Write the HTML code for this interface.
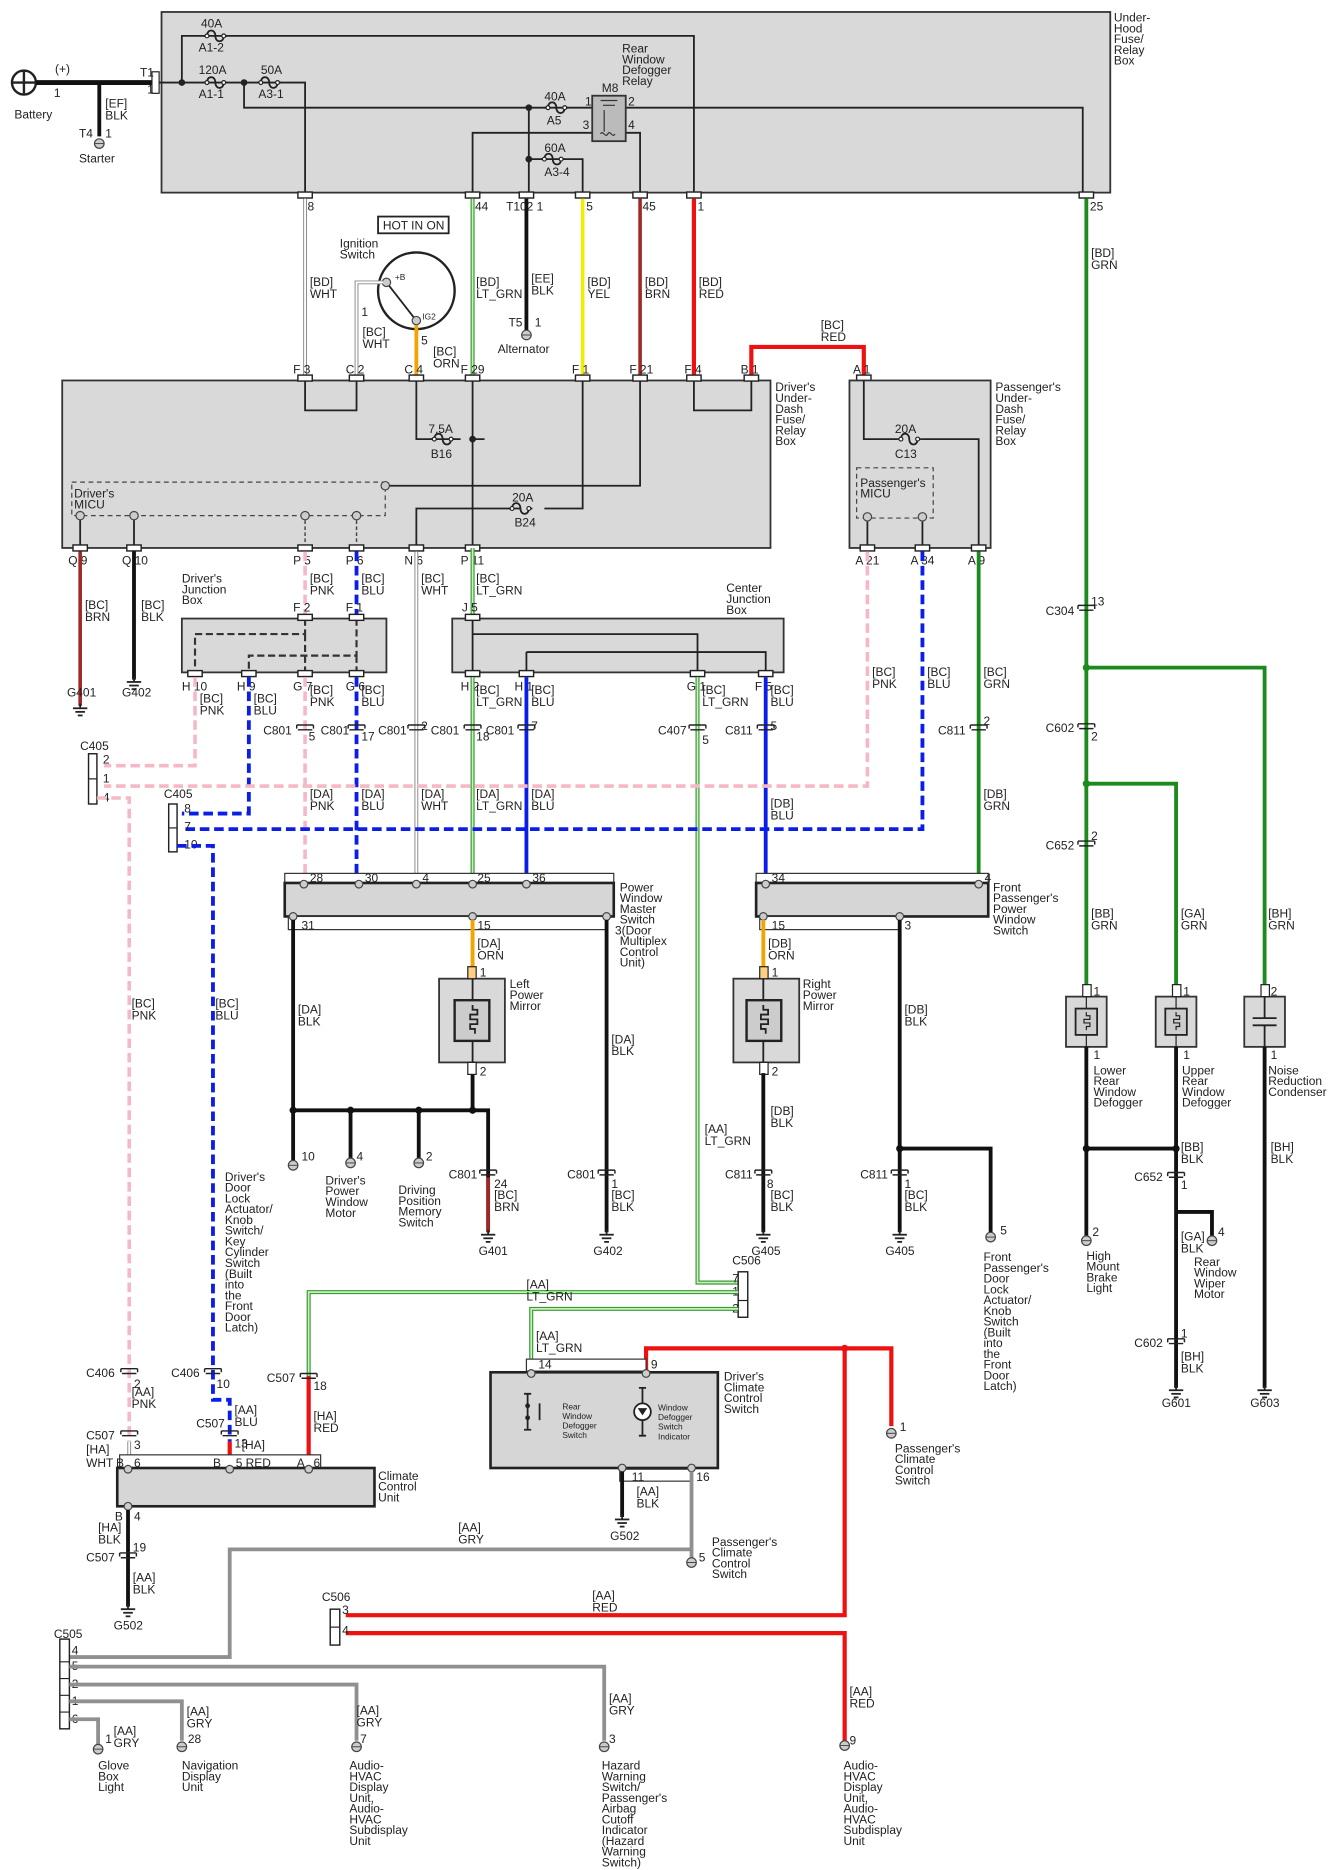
<!DOCTYPE html>
<html><head><meta charset="utf-8"><style>
html,body{margin:0;padding:0;background:#fff}
svg{display:block}
text{font-family:"Liberation Sans Narrow","Liberation Sans",sans-serif;font-size:10px;fill:#222}
.s{font-size:7px}
.k{stroke:#222;stroke-width:1.5;fill:none}
.kb{stroke:#111;stroke-width:3.2;fill:none}
.r{stroke:#ee1111;stroke-width:3.5;fill:none}
.br{stroke:#a02828;stroke-width:3;fill:none}
.pk{stroke:#f6b8c4;stroke-width:3;fill:none;stroke-dasharray:8 4}
.bl{stroke:#0a1ee8;stroke-width:3.2;fill:none;stroke-dasharray:8 4}
.bs{stroke:#0a1ee8;stroke-width:3.2;fill:none}
.g{stroke:#1c8a1c;stroke-width:3.2;fill:none}
.lg{stroke:#3a9a3a;stroke-width:3.4;fill:none}
.lgi{stroke:#c8f2b8;stroke-width:1.4;fill:none}
.w{stroke:#888;stroke-width:3.2;fill:none}
.wi{stroke:#fff;stroke-width:1.6;fill:none}
.y{stroke:#f0ee00;stroke-width:3;fill:none}
.o{stroke:#f5a300;stroke-width:3.2;fill:none}
.gy{stroke:#909090;stroke-width:3.2;fill:none}
.box{fill:#d9d9d9;stroke:#333;stroke-width:1.5}
.bx2{fill:#d6d6d6;stroke:#222;stroke-width:2.2}
.cn{fill:#fff;stroke:#222;stroke-width:1.2}
.ds{fill:none;stroke:#444;stroke-width:1;stroke-dasharray:4 3}
.t{fill:#ccc;stroke:#444;stroke-width:1}
</style></head><body>
<svg width="1334" height="1870" viewBox="0 0 1115 1563" xmlns="http://www.w3.org/2000/svg">
<defs>
<g id="gnd"><line x1="0" y1="0" x2="0" y2="4" stroke="#222" stroke-width="1.5"/><line x1="-6" y1="4" x2="6" y2="4" stroke="#222" stroke-width="1.5"/><line x1="-4" y1="7" x2="4" y2="7" stroke="#222" stroke-width="1.5"/><line x1="-2" y1="10" x2="2" y2="10" stroke="#222" stroke-width="1.5"/></g>
<g id="term"><circle cx="0" cy="0" r="4" fill="#ccc" stroke="#444" stroke-width="1"/><line x1="-4" y1="0" x2="4" y2="0" stroke="#444" stroke-width="0.8"/></g>
<g id="cn"><rect x="-6" y="-2.5" width="12" height="5" fill="#fff" stroke="#222" stroke-width="1.2"/></g>
<g id="ic"><path d="M-7,-2 h14 M-7,-2 v3 M7,-2 v3 M-6,2 h12" stroke="#222" stroke-width="1.2" fill="none"/></g>
<g id="fz"><path d="M-10,0 h3 c0,-6 7,-6 7,0 c0,6 7,6 7,0 h3" stroke="#222" stroke-width="1.5" fill="none"/><circle cx="-7" cy="0" r="1.6" fill="#fff" stroke="#222"/><circle cx="7" cy="0" r="1.6" fill="#fff" stroke="#222"/></g>
</defs>

<!-- Under hood box -->
<rect class="box" x="135" y="10" width="793" height="151"/>
<text x="931" y="18"><tspan x="931">Under-</tspan><tspan x="931" dy="9">Hood</tspan><tspan x="931" dy="9">Fuse/</tspan><tspan x="931" dy="9">Relay</tspan><tspan x="931" dy="9">Box</tspan></text>
<!-- battery -->
<circle cx="20" cy="69" r="10" fill="#fff" stroke="#222" stroke-width="2"/>
<path d="M10,69h20M20,59v20" stroke="#222" stroke-width="2"/>
<text x="46" y="61">(+)</text><text x="45" y="81">1</text><text x="12" y="99">Battery</text>
<path d="M30,69H128" stroke="#111" stroke-width="4"/>
<rect x="127" y="60" width="6" height="18" fill="#fff" stroke="#222"/>
<text x="117" y="64">T1</text><text x="123" y="78">1</text>
<path class="kb" d="M83,69V114"/>
<text x="88" y="90"><tspan x="88">[EF]</tspan><tspan x="88" dy="10">BLK</tspan></text>
<text x="66" y="115">T4</text><text x="88" y="115">1</text>
<use href="#term" x="83" y="120"/><text x="66" y="136">Starter</text>
<!-- inside under hood -->
<path class="k" d="M133,69H255V163M152,69V30H580V163M204,69V90H905V163M442,90V163M442,133H487V163M522,111H535V163M495,111H395V163"/>
<circle cx="152" cy="69" r="2.8" fill="#222"/><circle cx="204" cy="69" r="2.8" fill="#222"/><circle cx="442" cy="90" r="2.8" fill="#222"/><circle cx="442" cy="133" r="2.8" fill="#222"/>
<use href="#fz" x="180" y="30"/><text x="168" y="23">40A</text><text x="166" y="43">A1-2</text>
<use href="#fz" x="180" y="69"/><text x="166" y="62">120A</text><text x="166" y="82">A1-1</text>
<use href="#fz" x="225" y="69"/><text x="218" y="62">50A</text><text x="216" y="82">A3-1</text>
<use href="#fz" x="465" y="90"/><text x="455" y="84">40A</text><text x="457" y="104">A5</text>
<use href="#fz" x="462" y="133"/><text x="455" y="127">60A</text><text x="455" y="147">A3-4</text>
<rect x="495" y="80" width="28" height="38" fill="#bbb" stroke="#333" stroke-width="1.5"/>
<path d="M502,84h14M504,88h10M505,92 v18" stroke="#333" stroke-width="1" fill="none"/><path d="M502,112c2,-4 4,4 6,0c2,-4 4,4 6,0" stroke="#333" fill="none"/>
<text x="520" y="44"><tspan x="520">Rear</tspan><tspan x="520" dy="9">Window</tspan><tspan x="520" dy="9">Defogger</tspan><tspan x="520" dy="9">Relay</tspan></text>
<text x="503" y="77">M8</text><text x="489" y="88">1</text><text x="525" y="88">2</text><text x="487" y="108">3</text><text x="525" y="108">4</text>
<use href="#cn" x="255" y="163"/><use href="#cn" x="395" y="163"/><use href="#cn" x="440" y="163"/><use href="#cn" x="487" y="163"/><use href="#cn" x="535" y="163"/><use href="#cn" x="580" y="163"/><use href="#cn" x="908" y="163"/>
<text x="257" y="176">8</text><text x="397" y="176">44</text><text x="423" y="176">T102 1</text><text x="490" y="176">5</text><text x="537" y="176">45</text><text x="583" y="176">1</text><text x="911" y="176">25</text>
<!-- wires to second box -->
<path class="w" d="M255,166V313"/><path class="wi" d="M255,166V313"/>
<text x="259" y="239"><tspan x="259">[BD]</tspan><tspan x="259" dy="10">WHT</tspan></text>
<path class="lg" d="M395,166V458"/><path class="lgi" d="M395,166V458"/>
<text x="398" y="239"><tspan x="398">[BD]</tspan><tspan x="398" dy="10">LT_GRN</tspan></text>
<path class="kb" d="M440,166V276"/><text x="444" y="236"><tspan x="444">[EE]</tspan><tspan x="444" dy="10">BLK</tspan></text>
<text x="425" y="273">T5</text><text x="447" y="273">1</text><use href="#term" x="440" y="280"/><text x="416" y="295">Alternator</text>
<path class="y" d="M487,166V313"/><text x="491" y="239"><tspan x="491">[BD]</tspan><tspan x="491" dy="10">YEL</tspan></text>
<path class="br" d="M535,166V313"/><text x="539" y="239"><tspan x="539">[BD]</tspan><tspan x="539" dy="10">BRN</tspan></text>
<path class="r" d="M580,166V313"/><text x="584" y="239"><tspan x="584">[BD]</tspan><tspan x="584" dy="10">RED</tspan></text>
<path class="g" d="M908,166V828"/><text x="912" y="215"><tspan x="912">[BD]</tspan><tspan x="912" dy="10">GRN</tspan></text>
<rect x="316" y="181" width="59" height="14" fill="#fff" stroke="#222" stroke-width="1.5"/><text x="320" y="192">HOT IN ON</text>
<text x="284" y="207"><tspan x="284">Ignition</tspan><tspan x="284" dy="9">Switch</tspan></text>
<circle cx="348" cy="243" r="32" fill="#fff" stroke="#222" stroke-width="2"/>
<path class="k" d="M323,236L348,268"/>
<circle cx="323" cy="236" r="3.5" fill="#ccc" stroke="#444"/><circle cx="348" cy="268" r="3.5" fill="#ccc" stroke="#444"/>
<text x="330" y="234" class="s">+B</text><text x="353" y="267" class="s">IG2</text>
<path class="w" d="M320,236H298V313" stroke-width="2.6"/><path class="wi" d="M320,236H298V313" stroke-width="1.2"/>
<text x="302" y="264">1</text><text x="303" y="281"><tspan x="303">[BC]</tspan><tspan x="303" dy="10">WHT</tspan></text>
<path class="o" d="M348,272V313"/><text x="352" y="288">5</text><text x="362" y="297"><tspan x="362">[BC]</tspan><tspan x="362" dy="10">ORN</tspan></text>
<path class="r" d="M628,316V290H722V316"/><text x="686" y="275"><tspan x="686">[BC]</tspan><tspan x="686" dy="10">RED</tspan></text>
<!-- driver's under-dash -->
<rect class="box" x="52" y="318" width="592" height="140"/>
<text x="648" y="327"><tspan x="648">Driver's</tspan><tspan x="648" dy="9">Under-</tspan><tspan x="648" dy="9">Dash</tspan><tspan x="648" dy="9">Fuse/</tspan><tspan x="648" dy="9">Relay</tspan><tspan x="648" dy="9">Box</tspan></text>
<path class="k" d="M255,318V343H298V318M580,318V343H628V318M348,318V367H385M405,367H395M487,318V425H455M435,425H348V458M535,318V406H325M67,431V458M112,431V458"/>
<path class="k" d="M395,318V458" stroke-opacity="0"/>
<path d="M395,318V458" stroke="#222" stroke-width="1.5"/>
<use href="#fz" x="370" y="367"/><circle cx="395" cy="367" r="2.8" fill="#222"/>
<text x="358" y="362">7.5A</text><text x="360" y="383">B16</text>
<use href="#fz" x="435" y="425"/><text x="428" y="419">20A</text><text x="430" y="440">B24</text>
<rect class="ds" x="60" y="403" width="262" height="28"/>
<text x="62" y="416"><tspan x="62">Driver's</tspan><tspan x="62" dy="9">MICU</tspan></text>
<circle cx="322" cy="406" r="3.5" fill="#ccc" stroke="#444"/>
<circle cx="67" cy="431" r="3.5" fill="#ccc" stroke="#444"/><circle cx="112" cy="431" r="3.5" fill="#ccc" stroke="#444"/><circle cx="255" cy="431" r="3.5" fill="#ccc" stroke="#444"/><circle cx="298" cy="431" r="3.5" fill="#ccc" stroke="#444"/>
<path d="M255,435V458M298,435V458" stroke="#444" stroke-width="1.2" stroke-dasharray="3 2"/>
<use href="#cn" x="255" y="316"/><use href="#cn" x="298" y="316"/><use href="#cn" x="348" y="316"/><use href="#cn" x="395" y="316"/><use href="#cn" x="487" y="316"/><use href="#cn" x="535" y="316"/><use href="#cn" x="580" y="316"/><use href="#cn" x="628" y="316"/><use href="#cn" x="722" y="316"/>
<text x="245" y="312">F 3</text><text x="289" y="312">C 2</text><text x="338" y="312">C 4</text><text x="385" y="312">F 29</text><text x="478" y="312">F 1</text><text x="526" y="312">F 21</text><text x="572" y="312">F 4</text><text x="619" y="312">B 1</text><text x="713" y="312">A 1</text>
<use href="#cn" x="67" y="458"/><use href="#cn" x="112" y="458"/><use href="#cn" x="255" y="458"/><use href="#cn" x="298" y="458"/><use href="#cn" x="348" y="458"/><use href="#cn" x="395" y="458"/>
<text x="57" y="472">Q 9</text><text x="102" y="472">Q 10</text><text x="245" y="472">P 5</text><text x="289" y="472">P 6</text><text x="338" y="472">N 6</text><text x="385" y="472">P 11</text>
<!-- passenger under-dash -->
<rect class="box" x="710" y="318" width="118" height="140"/>
<text x="832" y="327"><tspan x="832">Passenger's</tspan><tspan x="832" dy="9">Under-</tspan><tspan x="832" dy="9">Dash</tspan><tspan x="832" dy="9">Fuse/</tspan><tspan x="832" dy="9">Relay</tspan><tspan x="832" dy="9">Box</tspan></text>
<path class="k" d="M722,318V367H750M770,367H818V458M725,436V458M771,436V458"/>
<use href="#fz" x="760" y="367"/><text x="748" y="362">20A</text><text x="748" y="383">C13</text>
<rect class="ds" x="716" y="391" width="64" height="42"/>
<text x="719" y="407"><tspan x="719">Passenger's</tspan><tspan x="719" dy="9">MICU</tspan></text>
<circle cx="725" cy="432" r="3.5" fill="#ccc" stroke="#444"/><circle cx="771" cy="432" r="3.5" fill="#ccc" stroke="#444"/>
<use href="#cn" x="725" y="458"/><use href="#cn" x="771" y="458"/><use href="#cn" x="818" y="458"/>
<text x="715" y="472">A 21</text><text x="761" y="472">A 34</text><text x="809" y="472">A 9</text>
<!-- below driver's box -->
<path class="br" d="M67,461V590"/><text x="71" y="509"><tspan x="71">[BC]</tspan><tspan x="71" dy="10">BRN</tspan></text><use href="#gnd" x="67" y="588"/><text x="56" y="582">G401</text>
<path class="kb" d="M112,461V568"/><text x="118" y="509"><tspan x="118">[BC]</tspan><tspan x="118" dy="10">BLK</tspan></text><use href="#gnd" x="112" y="566"/><text x="102" y="582">G402</text>
<text x="152" y="487"><tspan x="152">Driver's</tspan><tspan x="152" dy="9">Junction</tspan><tspan x="152" dy="9">Box</tspan></text>
<path class="pk" d="M255,461V516"/><text x="259" y="487"><tspan x="259">[BC]</tspan><tspan x="259" dy="10">PNK</tspan></text>
<path class="bl" d="M298,461V516"/><text x="302" y="487"><tspan x="302">[BC]</tspan><tspan x="302" dy="10">BLU</tspan></text>
<path class="w" d="M348,461V730"/><path class="wi" d="M348,461V730"/><text x="352" y="487"><tspan x="352">[BC]</tspan><tspan x="352" dy="10">WHT</tspan></text>
<path class="lg" d="M395,458V516"/><path class="lgi" d="M395,458V516"/><text x="398" y="487"><tspan x="398">[BC]</tspan><tspan x="398" dy="10">LT_GRN</tspan></text>
<rect class="box" x="152" y="517" width="171" height="45"/>
<path d="M255,517V530H163V562M298,517V548H208V562M255,530V562M298,548V562" stroke="#333" stroke-width="1.8" fill="none" stroke-dasharray="6 3"/>
<use href="#cn" x="255" y="516"/><use href="#cn" x="298" y="516"/><text x="245" y="511">F 2</text><text x="289" y="511">F 1</text>
<use href="#cn" x="163" y="563"/><use href="#cn" x="208" y="563"/><use href="#cn" x="255" y="563"/><use href="#cn" x="298" y="563"/>
<text x="152" y="577">H 10</text><text x="198" y="577">H 9</text><text x="245" y="577">G 7</text><text x="289" y="577">G 6</text>
<rect class="box" x="378" y="517" width="277" height="45"/>
<text x="607" y="495"><tspan x="607">Center</tspan><tspan x="607" dy="9">Junction</tspan><tspan x="607" dy="9">Box</tspan></text>
<path class="k" d="M395,517V562M395,530H583V562M440,545H640V562M440,545V562"/>
<use href="#cn" x="395" y="516"/><text x="386" y="511">J 5</text>
<use href="#cn" x="395" y="563"/><use href="#cn" x="440" y="563"/><use href="#cn" x="583" y="563"/><use href="#cn" x="640" y="563"/>
<text x="385" y="577">H 2</text><text x="430" y="577">H 1</text><text x="574" y="577">G 1</text><text x="631" y="577">F 5</text>
<!-- wires below junction boxes -->
<path class="pk" d="M163,566V640H87"/><text x="167" y="587"><tspan x="167">[BC]</tspan><tspan x="167" dy="10">PNK</tspan></text>
<path class="bl" d="M208,566V680H152"/><text x="212" y="587"><tspan x="212">[BC]</tspan><tspan x="212" dy="10">BLU</tspan></text>
<path class="pk" d="M255,566V730"/><text x="259" y="580"><tspan x="259">[BC]</tspan><tspan x="259" dy="10">PNK</tspan></text><text x="259" y="667"><tspan x="259">[DA]</tspan><tspan x="259" dy="10">PNK</tspan></text>
<path class="bl" d="M298,566V730"/><text x="302" y="580"><tspan x="302">[BC]</tspan><tspan x="302" dy="10">BLU</tspan></text><text x="302" y="667"><tspan x="302">[DA]</tspan><tspan x="302" dy="10">BLU</tspan></text>
<text x="352" y="667"><tspan x="352">[DA]</tspan><tspan x="352" dy="10">WHT</tspan></text>
<path class="lg" d="M395,566V730"/><path class="lgi" d="M395,566V730"/><text x="398" y="580"><tspan x="398">[BC]</tspan><tspan x="398" dy="10">LT_GRN</tspan></text><text x="398" y="667"><tspan x="398">[DA]</tspan><tspan x="398" dy="10">LT_GRN</tspan></text>
<path class="bs" d="M440,566V730"/><text x="444" y="580"><tspan x="444">[BC]</tspan><tspan x="444" dy="10">BLU</tspan></text><text x="444" y="667"><tspan x="444">[DA]</tspan><tspan x="444" dy="10">BLU</tspan></text>
<path class="lg" d="M583,566V1072H617"/><path class="lgi" d="M583,566V1072H617"/><text x="587" y="580"><tspan x="587">[BC]</tspan><tspan x="587" dy="10">LT_GRN</tspan></text><text x="589" y="947"><tspan x="589">[AA]</tspan><tspan x="589" dy="10">LT_GRN</tspan></text>
<path class="bs" d="M640,566V730"/><text x="644" y="580"><tspan x="644">[BC]</tspan><tspan x="644" dy="10">BLU</tspan></text><text x="644" y="675"><tspan x="644">[DB]</tspan><tspan x="644" dy="10">BLU</tspan></text>
<path class="pk" d="M725,461V657H87"/><text x="729" y="565"><tspan x="729">[BC]</tspan><tspan x="729" dy="10">PNK</tspan></text>
<path class="bl" d="M771,461V693H152"/><text x="775" y="565"><tspan x="775">[BC]</tspan><tspan x="775" dy="10">BLU</tspan></text>
<path class="g" d="M818,461V730"/><text x="822" y="565"><tspan x="822">[BC]</tspan><tspan x="822" dy="10">GRN</tspan></text><text x="822" y="667"><tspan x="822">[DB]</tspan><tspan x="822" dy="10">GRN</tspan></text>
<!-- inline connectors row y=608 -->
<use href="#ic" x="255" y="608"/><text x="220" y="614">C801</text><text x="258" y="619">5</text>
<use href="#ic" x="298" y="608"/><text x="268" y="614">C801</text><text x="302" y="619">17</text>
<use href="#ic" x="348" y="608"/><text x="316" y="614">C801</text><text x="352" y="610">2</text>
<use href="#ic" x="395" y="608"/><text x="360" y="614">C801</text><text x="398" y="619">18</text>
<use href="#ic" x="440" y="608"/><text x="406" y="614">C801</text><text x="444" y="610">7</text>
<use href="#ic" x="583" y="608"/><text x="550" y="614">C407</text><text x="587" y="622">5</text>
<use href="#ic" x="640" y="608"/><text x="606" y="614">C811</text><text x="644" y="610">5</text>
<use href="#ic" x="818" y="608"/><text x="784" y="614">C811</text><text x="822" y="606">2</text>
<!-- C405 connectors -->
<rect x="74" y="630" width="7" height="42" fill="#fff" stroke="#222" stroke-width="1.2"/><line x1="74" y1="651" x2="81" y2="651" stroke="#222"/>
<text x="67" y="627">C405</text><text x="86" y="638">2</text><text x="86" y="654">1</text><text x="86" y="670">4</text>
<path class="pk" d="M81,667H108V1205"/>
<rect x="141" y="672" width="7" height="40" fill="#fff" stroke="#222" stroke-width="1.2"/><line x1="141" y1="692" x2="148" y2="692" stroke="#222"/>
<text x="137" y="667">C405</text><text x="154" y="679">8</text><text x="154" y="694">7</text><text x="154" y="709">10</text>
<path class="bl" d="M148,707H178V1170H192V1205"/>
<text x="110" y="842"><tspan x="110">[BC]</tspan><tspan x="110" dy="10">PNK</tspan></text>
<text x="180" y="842"><tspan x="180">[BC]</tspan><tspan x="180" dy="10">BLU</tspan></text>
<text x="188" y="987"><tspan x="188">Driver's</tspan><tspan x="188" dy="9">Door</tspan><tspan x="188" dy="9">Lock</tspan><tspan x="188" dy="9">Actuator/</tspan><tspan x="188" dy="9">Knob</tspan><tspan x="188" dy="9">Switch/</tspan><tspan x="188" dy="9">Key</tspan><tspan x="188" dy="9">Cylinder</tspan><tspan x="188" dy="9">Switch</tspan><tspan x="188" dy="9">(Built</tspan><tspan x="188" dy="9">into</tspan><tspan x="188" dy="9">the</tspan><tspan x="188" dy="9">Front</tspan><tspan x="188" dy="9">Door</tspan><tspan x="188" dy="9">Latch)</tspan></text>
<!-- Power window master switch -->
<rect x="238" y="730" width="275" height="8" fill="#fff" stroke="#333"/>
<rect class="bx2" x="238" y="738" width="275" height="28"/>
<rect x="241" y="766" width="267" height="11" fill="#fff" stroke="#333"/>
<circle cx="254" cy="739" r="3.2" fill="#ccc" stroke="#444"/><circle cx="300" cy="739" r="3.2" fill="#ccc" stroke="#444"/><circle cx="348" cy="739" r="3.2" fill="#ccc" stroke="#444"/><circle cx="395" cy="739" r="3.2" fill="#ccc" stroke="#444"/><circle cx="440" cy="739" r="3.2" fill="#ccc" stroke="#444"/>
<text x="259" y="737">28</text><text x="305" y="737">30</text><text x="353" y="737">4</text><text x="399" y="737">25</text><text x="445" y="737">36</text>
<text x="518" y="745"><tspan x="518">Power</tspan><tspan x="518" dy="9">Window</tspan><tspan x="518" dy="9">Master</tspan><tspan x="518" dy="9">Switch</tspan><tspan x="514" dy="9">3(Door</tspan><tspan x="518" dy="9">Multiplex</tspan><tspan x="518" dy="9">Control</tspan><tspan x="518" dy="9">Unit)</tspan></text>
<circle cx="245" cy="766" r="3.2" fill="#ccc" stroke="#444"/><circle cx="395" cy="766" r="3.2" fill="#ccc" stroke="#444"/><circle cx="507" cy="766" r="3.2" fill="#ccc" stroke="#444"/>
<text x="252" y="777">31</text><text x="399" y="777">15</text>
<path class="kb" d="M245,769V970M245,928H408V1030M293,928V968M350,928V968M395,897V928M507,769V1030"/>
<circle cx="245" cy="928" r="3" fill="#111"/><circle cx="293" cy="928" r="3" fill="#111"/><circle cx="350" cy="928" r="3" fill="#111"/><circle cx="395" cy="928" r="3" fill="#111"/>
<path class="br" d="M408,984V1030"/>
<path class="o" d="M395,769V812"/><text x="399" y="792"><tspan x="399">[DA]</tspan><tspan x="399" dy="10">ORN</tspan></text>
<rect class="box" x="367" y="818" width="55" height="70" stroke-width="2"/>
<rect x="380" y="836" width="29" height="34" fill="#ccc" stroke="#222" stroke-width="2"/>
<path d="M395,818V836M395,870V888M395,840v4h4v4h-6v4h6v4h-6v4h4v4" stroke="#222" stroke-width="1.5" fill="none"/>
<rect x="391" y="808" width="7" height="10" fill="#ffd080" stroke="#222"/><rect x="391" y="888" width="7" height="10" fill="#fff" stroke="#222"/>
<text x="401" y="816">1</text><text x="401" y="899">2</text>
<text x="426" y="826"><tspan x="426">Left</tspan><tspan x="426" dy="9">Power</tspan><tspan x="426" dy="9">Mirror</tspan></text>
<text x="249" y="847"><tspan x="249">[DA]</tspan><tspan x="249" dy="10">BLK</tspan></text>
<text x="511" y="872"><tspan x="511">[DA]</tspan><tspan x="511" dy="10">BLK</tspan></text>
<use href="#term" x="245" y="974"/><use href="#term" x="293" y="972"/><use href="#term" x="350" y="972"/>
<text x="252" y="970">10</text><text x="298" y="970">4</text><text x="356" y="970">2</text>
<text x="272" y="990"><tspan x="272">Driver's</tspan><tspan x="272" dy="9">Power</tspan><tspan x="272" dy="9">Window</tspan><tspan x="272" dy="9">Motor</tspan></text>
<text x="333" y="998"><tspan x="333">Driving</tspan><tspan x="333" dy="9">Position</tspan><tspan x="333" dy="9">Memory</tspan><tspan x="333" dy="9">Switch</tspan></text>
<use href="#ic" x="408" y="980"/><text x="375" y="985">C801</text><text x="413" y="993">24</text><text x="413" y="1002"><tspan x="413">[BC]</tspan><tspan x="413" dy="10">BRN</tspan></text>
<use href="#gnd" x="408" y="1028"/><text x="400" y="1049">G401</text>
<use href="#ic" x="507" y="980"/><text x="474" y="985">C801</text><text x="511" y="993">1</text><text x="511" y="1002"><tspan x="511">[BC]</tspan><tspan x="511" dy="10">BLK</tspan></text>
<use href="#gnd" x="507" y="1028"/><text x="496" y="1049">G402</text>
<!-- front passenger switch -->
<rect x="632" y="730" width="194" height="8" fill="#fff" stroke="#333"/>
<rect class="bx2" x="632" y="738" width="194" height="28"/>
<rect x="635" y="766" width="118" height="11" fill="#fff" stroke="#333"/>
<circle cx="640" cy="739" r="3.2" fill="#ccc" stroke="#444"/><circle cx="818" cy="739" r="3.2" fill="#ccc" stroke="#444"/>
<text x="645" y="737">34</text><text x="823" y="737">4</text>
<text x="830" y="745"><tspan x="830">Front</tspan><tspan x="830" dy="9">Passenger's</tspan><tspan x="830" dy="9">Power</tspan><tspan x="830" dy="9">Window</tspan><tspan x="830" dy="9">Switch</tspan></text>
<circle cx="638" cy="766" r="3.2" fill="#ccc" stroke="#444"/><circle cx="752" cy="766" r="3.2" fill="#ccc" stroke="#444"/>
<text x="645" y="777">15</text><text x="756" y="777">3</text>
<path class="o" d="M638,769V812"/><text x="642" y="792"><tspan x="642">[DB]</tspan><tspan x="642" dy="10">ORN</tspan></text>
<rect class="box" x="613" y="818" width="55" height="70" stroke-width="2"/>
<rect x="624" y="836" width="29" height="34" fill="#ccc" stroke="#222" stroke-width="2"/>
<path d="M638,818V836M638,870V888M638,840v4h4v4h-6v4h6v4h-6v4h4v4" stroke="#222" stroke-width="1.5" fill="none"/>
<rect x="635" y="808" width="7" height="10" fill="#ffd080" stroke="#222"/><rect x="635" y="888" width="7" height="10" fill="#fff" stroke="#222"/>
<text x="645" y="816">1</text><text x="645" y="899">2</text>
<text x="671" y="826"><tspan x="671">Right</tspan><tspan x="671" dy="9">Power</tspan><tspan x="671" dy="9">Mirror</tspan></text>
<path class="kb" d="M638,897V1030M752,769V1030M752,960H828V1030"/><circle cx="752" cy="960" r="3" fill="#111"/>
<text x="644" y="932"><tspan x="644">[DB]</tspan><tspan x="644" dy="10">BLK</tspan></text>
<text x="756" y="847"><tspan x="756">[DB]</tspan><tspan x="756" dy="10">BLK</tspan></text>
<use href="#ic" x="638" y="980"/><text x="606" y="985">C811</text><text x="641" y="993">8</text><text x="644" y="1002"><tspan x="644">[BC]</tspan><tspan x="644" dy="10">BLK</tspan></text>
<use href="#gnd" x="638" y="1028"/><text x="628" y="1049">G405</text>
<use href="#ic" x="752" y="980"/><text x="719" y="985">C811</text><text x="756" y="993">1</text><text x="756" y="1002"><tspan x="756">[BC]</tspan><tspan x="756" dy="10">BLK</tspan></text>
<use href="#gnd" x="752" y="1028"/><text x="740" y="1049">G405</text>
<use href="#term" x="828" y="1034"/><text x="836" y="1032">5</text>
<text x="822" y="1054"><tspan x="822">Front</tspan><tspan x="822" dy="9">Passenger's</tspan><tspan x="822" dy="9">Door</tspan><tspan x="822" dy="9">Lock</tspan><tspan x="822" dy="9">Actuator/</tspan><tspan x="822" dy="9">Knob</tspan><tspan x="822" dy="9">Switch</tspan><tspan x="822" dy="9">(Built</tspan><tspan x="822" dy="9">into</tspan><tspan x="822" dy="9">the</tspan><tspan x="822" dy="9">Front</tspan><tspan x="822" dy="9">Door</tspan><tspan x="822" dy="9">Latch)</tspan></text>
<!-- right side green -->
<path class="g" d="M908,558H1057V828M908,655H983V828"/>
<circle cx="908" cy="558" r="3" fill="#1c8a1c"/><circle cx="908" cy="655" r="3" fill="#1c8a1c"/>
<use href="#ic" x="908" y="508"/><text x="874" y="514">C304</text><text x="912" y="506">13</text>
<use href="#ic" x="908" y="607"/><text x="874" y="612">C602</text><text x="912" y="619">2</text>
<use href="#ic" x="908" y="705"/><text x="874" y="710">C652</text><text x="912" y="702">2</text>
<text x="912" y="767"><tspan x="912">[BB]</tspan><tspan x="912" dy="10">GRN</tspan></text>
<text x="987" y="767"><tspan x="987">[GA]</tspan><tspan x="987" dy="10">GRN</tspan></text>
<text x="1060" y="767"><tspan x="1060">[BH]</tspan><tspan x="1060" dy="10">GRN</tspan></text>
<rect class="box" x="891" y="833" width="34" height="42" stroke-width="2"/><rect x="899" y="843" width="18" height="22" fill="#ccc" stroke="#222" stroke-width="1.5"/><path d="M908,833V843M908,865V875M908,846v3h3v3h-5v3h5v3h-3v3" stroke="#222" fill="none"/>
<rect class="box" x="966" y="833" width="34" height="42" stroke-width="2"/><rect x="974" y="843" width="18" height="22" fill="#ccc" stroke="#222" stroke-width="1.5"/><path d="M983,833V843M983,865V875M983,846v3h3v3h-5v3h5v3h-3v3" stroke="#222" fill="none"/>
<rect class="box" x="1040" y="833" width="34" height="42" stroke-width="2"/><path d="M1057,833V851M1057,857V875M1047,851h20M1047,857h20" stroke="#222" stroke-width="1.5" fill="none"/>
<rect x="905" y="823" width="7" height="10" fill="#fff" stroke="#222"/><rect x="980" y="823" width="7" height="10" fill="#fff" stroke="#222"/><rect x="1054" y="823" width="7" height="10" fill="#fff" stroke="#222"/>
<text x="914" y="832">1</text><text x="989" y="832">1</text><text x="1062" y="832">2</text>
<text x="914" y="885">1</text><text x="989" y="885">1</text><text x="1062" y="885">1</text>
<text x="914" y="898"><tspan x="914">Lower</tspan><tspan x="914" dy="9">Rear</tspan><tspan x="914" dy="9">Window</tspan><tspan x="914" dy="9">Defogger</tspan></text>
<text x="988" y="898"><tspan x="988">Upper</tspan><tspan x="988" dy="9">Rear</tspan><tspan x="988" dy="9">Window</tspan><tspan x="988" dy="9">Defogger</tspan></text>
<text x="1060" y="898"><tspan x="1060">Noise</tspan><tspan x="1060" dy="9">Reduction</tspan><tspan x="1060" dy="9">Condenser</tspan></text>
<path class="kb" d="M908,875V1033M908,960H983M983,875V1160M983,1013H1013V1033M1057,875V1160"/>
<circle cx="908" cy="960" r="3" fill="#111"/><circle cx="983" cy="960" r="3" fill="#111"/>
<use href="#term" x="908" y="1037"/><text x="913" y="1033">2</text>
<text x="908" y="1053"><tspan x="908">High</tspan><tspan x="908" dy="9">Mount</tspan><tspan x="908" dy="9">Brake</tspan><tspan x="908" dy="9">Light</tspan></text>
<text x="987" y="962"><tspan x="987">[BB]</tspan><tspan x="987" dy="10">BLK</tspan></text>
<use href="#ic" x="983" y="982"/><text x="948" y="987">C652</text><text x="987" y="994">1</text>
<use href="#term" x="1013" y="1037"/><text x="1018" y="1033">4</text>
<text x="987" y="1037"><tspan x="987">[GA]</tspan><tspan x="987" dy="10">BLK</tspan></text>
<text x="998" y="1058"><tspan x="998">Rear</tspan><tspan x="998" dy="9">Window</tspan><tspan x="998" dy="9">Wiper</tspan><tspan x="998" dy="9">Motor</tspan></text>
<use href="#ic" x="983" y="1121"/><text x="948" y="1126">C602</text><text x="987" y="1118">1</text>
<text x="987" y="1137"><tspan x="987">[BH]</tspan><tspan x="987" dy="10">BLK</tspan></text>
<use href="#gnd" x="983" y="1158"/><text x="971" y="1176">G601</text>
<text x="1062" y="962"><tspan x="1062">[BH]</tspan><tspan x="1062" dy="10">BLK</tspan></text>
<use href="#gnd" x="1057" y="1158"/><text x="1045" y="1176">G603</text>
<!-- C506 top -->
<rect x="617" y="1063" width="8" height="38" fill="#fff" stroke="#222" stroke-width="1.2"/><line x1="617" y1="1087" x2="625" y2="1087" stroke="#222"/>
<text x="612" y="1057">C506</text><text x="612" y="1072">7</text><text x="612" y="1083">1</text><text x="612" y="1097">2</text>
<path class="lg" d="M617,1080H258V1150M617,1094H444V1145"/><path class="lgi" d="M617,1080H258V1150M617,1094H444V1145"/>
<text x="440" y="1077"><tspan x="440">[AA]</tspan><tspan x="440" dy="10">LT_GRN</tspan></text>
<text x="448" y="1120"><tspan x="448">[AA]</tspan><tspan x="448" dy="10">LT_GRN</tspan></text>
<path class="r" d="M540,1145V1127H745V1192M706,1127V1350H289M289,1365H706V1455"/>
<circle cx="706" cy="1127" r="3" fill="#e11"/>
<use href="#term" x="745" y="1198"/><text x="752" y="1196">1</text>
<text x="748" y="1214"><tspan x="748">Passenger's</tspan><tspan x="748" dy="9">Climate</tspan><tspan x="748" dy="9">Control</tspan><tspan x="748" dy="9">Switch</tspan></text>
<!-- driver's climate switch -->
<rect x="440" y="1136" width="100" height="10" fill="#fff" stroke="#333"/>
<rect class="bx2" x="410" y="1147" width="190" height="80"/>
<circle cx="444" cy="1148" r="3.2" fill="#ccc" stroke="#444"/><circle cx="540" cy="1148" r="3.2" fill="#ccc" stroke="#444"/>
<text x="450" y="1144">14</text><text x="544" y="1144">9</text>
<text x="605" y="1154"><tspan x="605">Driver's</tspan><tspan x="605" dy="9">Climate</tspan><tspan x="605" dy="9">Control</tspan><tspan x="605" dy="9">Switch</tspan></text>
<path d="M441,1165v30M438,1165h6M438,1195h6M451,1173v14" stroke="#222" stroke-width="1.5" fill="none"/><circle cx="441" cy="1175" r="2" fill="#222"/><circle cx="441" cy="1185" r="2" fill="#222"/>
<text class="s" x="470" y="1178"><tspan x="470">Rear</tspan><tspan x="470" dy="8">Window</tspan><tspan x="470" dy="8">Defogger</tspan><tspan x="470" dy="8">Switch</tspan></text>
<path d="M537,1160v40M534,1160h6M534,1200h6" stroke="#222" stroke-width="1.5" fill="none"/><circle cx="537" cy="1180" r="7" fill="#fff" stroke="#222" stroke-width="1.5"/><path d="M533,1177h8l-4,6z" fill="#222"/>
<text class="s" x="550" y="1179"><tspan x="550">Window</tspan><tspan x="550" dy="8">Defogger</tspan><tspan x="550" dy="8">Switch</tspan><tspan x="550" dy="8">Indicator</tspan></text>
<rect x="518" y="1228" width="60" height="10" fill="#fff" stroke="#333"/>
<circle cx="520" cy="1227" r="3.2" fill="#ccc" stroke="#444"/><circle cx="578" cy="1227" r="3.2" fill="#ccc" stroke="#444"/>
<text x="528" y="1238">11</text><text x="582" y="1238">16</text>
<path class="kb" d="M520,1230V1268"/><text x="532" y="1250"><tspan x="532">[AA]</tspan><tspan x="532" dy="10">BLK</tspan></text>
<use href="#gnd" x="520" y="1266"/><text x="510" y="1287">G502</text>
<path class="gy" d="M578,1230V1302M578,1295H192V1385H57"/>
<use href="#term" x="578" y="1306"/><text x="584" y="1305">5</text>
<text x="595" y="1292"><tspan x="595">Passenger's</tspan><tspan x="595" dy="9">Climate</tspan><tspan x="595" dy="9">Control</tspan><tspan x="595" dy="9">Switch</tspan></text>
<text x="383" y="1280"><tspan x="383">[AA]</tspan><tspan x="383" dy="10">GRY</tspan></text>
<!-- climate control unit -->
<path class="r" d="M258,1150V1222M192,1205V1222"/>
<use href="#ic" x="258" y="1150"/><text x="223" y="1155">C507</text><text x="262" y="1162">18</text>
<text x="262" y="1187"><tspan x="262">[HA]</tspan><tspan x="262" dy="10">RED</tspan></text>
<use href="#ic" x="108" y="1146"/><text x="72" y="1151">C406</text><text x="112" y="1160">2</text>
<use href="#ic" x="178" y="1146"/><text x="143" y="1151">C406</text><text x="181" y="1160">10</text>
<text x="110" y="1167"><tspan x="110">[AA]</tspan><tspan x="110" dy="10">PNK</tspan></text>
<text x="196" y="1182"><tspan x="196">[AA]</tspan><tspan x="196" dy="10">BLU</tspan></text>
<use href="#ic" x="108" y="1198"/><text x="72" y="1203">C507</text><text x="112" y="1211">3</text>
<use href="#ic" x="192" y="1198"/><text x="164" y="1193">C507</text><text x="196" y="1210">13</text>
<path class="w" d="M108,1205V1225" stroke-width="2.5"/><path class="wi" d="M108,1205V1225" stroke-width="1"/>
<rect x="100" y="1216" width="168" height="11" fill="#fff" stroke="#333"/>
<rect class="bx2" x="98" y="1227" width="215" height="32"/>
<circle cx="107" cy="1228" r="3.2" fill="#ccc" stroke="#444"/><circle cx="192" cy="1228" r="3.2" fill="#ccc" stroke="#444"/><circle cx="258" cy="1228" r="3.2" fill="#ccc" stroke="#444"/>
<text x="72" y="1215">[HA]</text><text x="72" y="1226">WHT</text><text x="97" y="1226">B</text><text x="112" y="1226">6</text>
<text x="178" y="1226">B</text><text x="197" y="1226">5 RED</text><text x="202" y="1211">[HA]</text><text x="248" y="1226">A</text><text x="262" y="1226">6</text>
<text x="316" y="1237"><tspan x="316">Climate</tspan><tspan x="316" dy="9">Control</tspan><tspan x="316" dy="9">Unit</tspan></text>
<circle cx="107" cy="1259" r="3.2" fill="#ccc" stroke="#444"/>
<path class="kb" d="M107,1262V1343"/><text x="96" y="1271">B</text><text x="112" y="1271">4</text>
<text x="82" y="1280"><tspan x="82">[HA]</tspan><tspan x="82" dy="10">BLK</tspan></text>
<use href="#ic" x="107" y="1300"/><text x="72" y="1305">C507</text><text x="111" y="1297">19</text>
<text x="111" y="1322"><tspan x="111">[AA]</tspan><tspan x="111" dy="10">BLK</tspan></text>
<use href="#gnd" x="107" y="1341"/><text x="95" y="1362">G502</text>
<!-- C506 lower -->
<rect x="276" y="1345" width="8" height="30" fill="#fff" stroke="#222" stroke-width="1.2"/><line x1="276" y1="1360" x2="284" y2="1360" stroke="#222"/>
<text x="269" y="1338">C506</text><text x="286" y="1349">3</text><text x="286" y="1366">4</text>
<text x="495" y="1337"><tspan x="495">[AA]</tspan><tspan x="495" dy="10">RED</tspan></text>
<text x="710" y="1417"><tspan x="710">[AA]</tspan><tspan x="710" dy="10">RED</tspan></text>
<use href="#term" x="706" y="1459"/><text x="710" y="1458">9</text>
<!-- C505 -->
<rect x="50" y="1370" width="8" height="75" fill="#fff" stroke="#222" stroke-width="1.2"/>
<path d="M50,1389h8M50,1403h8M50,1417h8M50,1431h8" stroke="#222"/>
<text x="45" y="1369">C505</text><text x="60" y="1383">4</text><text x="60" y="1396">5</text><text x="60" y="1411">2</text><text x="60" y="1425">1</text><text x="60" y="1440">6</text>
<path class="gy" d="M58,1393H505V1455M58,1408H298V1455M58,1422H152V1455M58,1437H82V1458"/>
<use href="#term" x="82" y="1462"/><use href="#term" x="152" y="1460"/><use href="#term" x="298" y="1460"/><use href="#term" x="505" y="1460"/>
<text x="88" y="1457">1</text><text x="95" y="1450"><tspan x="95">[AA]</tspan><tspan x="95" dy="10">GRY</tspan></text>
<text x="156" y="1434"><tspan x="156">[AA]</tspan><tspan x="156" dy="10">GRY</tspan></text><text x="157" y="1457">28</text>
<text x="298" y="1433"><tspan x="298">[AA]</tspan><tspan x="298" dy="10">GRY</tspan></text><text x="301" y="1457">7</text>
<text x="509" y="1423"><tspan x="509">[AA]</tspan><tspan x="509" dy="10">GRY</tspan></text><text x="509" y="1457">3</text>
<text x="82" y="1479"><tspan x="82">Glove</tspan><tspan x="82" dy="9">Box</tspan><tspan x="82" dy="9">Light</tspan></text>
<text x="152" y="1479"><tspan x="152">Navigation</tspan><tspan x="152" dy="9">Display</tspan><tspan x="152" dy="9">Unit</tspan></text>
<text x="292" y="1479"><tspan x="292">Audio-</tspan><tspan x="292" dy="9">HVAC</tspan><tspan x="292" dy="9">Display</tspan><tspan x="292" dy="9">Unit,</tspan><tspan x="292" dy="9">Audio-</tspan><tspan x="292" dy="9">HVAC</tspan><tspan x="292" dy="9">Subdisplay</tspan><tspan x="292" dy="9">Unit</tspan></text>
<text x="503" y="1479"><tspan x="503">Hazard</tspan><tspan x="503" dy="9">Warning</tspan><tspan x="503" dy="9">Switch/</tspan><tspan x="503" dy="9">Passenger's</tspan><tspan x="503" dy="9">Airbag</tspan><tspan x="503" dy="9">Cutoff</tspan><tspan x="503" dy="9">Indicator</tspan><tspan x="503" dy="9">(Hazard</tspan><tspan x="503" dy="9">Warning</tspan><tspan x="503" dy="9">Switch)</tspan></text>
<text x="705" y="1479"><tspan x="705">Audio-</tspan><tspan x="705" dy="9">HVAC</tspan><tspan x="705" dy="9">Display</tspan><tspan x="705" dy="9">Unit,</tspan><tspan x="705" dy="9">Audio-</tspan><tspan x="705" dy="9">HVAC</tspan><tspan x="705" dy="9">Subdisplay</tspan><tspan x="705" dy="9">Unit</tspan></text>
</svg>
</body></html>
